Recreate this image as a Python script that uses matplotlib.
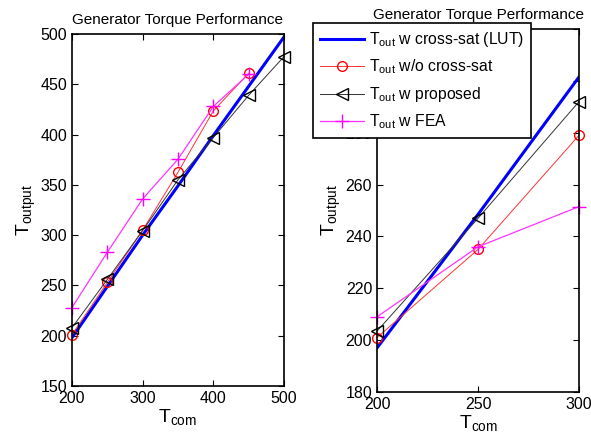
import matplotlib
matplotlib.use("Agg")
import matplotlib.pyplot as plt

plt.rcParams['font.family'] = ['Liberation Sans', 'DejaVu Sans']
plt.rcParams['mathtext.fontset'] = 'custom'
plt.rcParams['mathtext.rm'] = 'Liberation Sans'
plt.rcParams['mathtext.it'] = 'Liberation Sans'

# left panel data
t_com = [200, 250, 300, 350, 400, 450, 500]
lut_left = [198, 249, 300, 349, 399, 448, 497]
wo_left_x = [200, 250, 300, 350, 400, 450]
wo_left = [201, 253, 305, 362.5, 423.5, 461]
prop_left = [208, 256, 304.5, 355, 397, 439, 477.5]
fea_left_x = [200, 250, 300, 350, 400, 450]
fea_left = [228, 283, 336, 375.5, 428, 460]

# right panel data
t_com_r = [200, 250, 300]
lut_right = [197, 248.5, 301.5]
wo_right = [201, 235, 279]
prop_right = [203.5, 247, 292]
fea_right = [209, 236, 251.5]

labels = [r'$\mathrm{T_{out}}$ w cross-sat (LUT)',
          r'$\mathrm{T_{out}}$ w/o cross-sat',
          r'$\mathrm{T_{out}}$ w proposed',
          r'$\mathrm{T_{out}}$ w FEA']

fig = plt.figure(figsize=(5.91, 4.37), dpi=100)
ax1 = fig.add_axes([0.1218, 0.1167, 0.3587, 0.8055])
ax2 = fig.add_axes([0.638, 0.103, 0.3417, 0.8306])

def draw(ax, x_lut, lut, x_wo, wo, x_p, prop, x_f, fea):
    ax.plot(x_lut, lut, color='#0000ff', lw=2.2, label=labels[0])
    ax.plot(x_wo, wo, color='#ff3333', lw=0.7, marker='o', ms=7,
            mfc='none', mec='red', label=labels[1], clip_on=False)
    ax.plot(x_p, prop, color='#333333', lw=0.7, marker='<', ms=8,
            mfc='none', mec='black', label=labels[2], clip_on=False)
    ax.plot(x_f, fea, color='#ff33ff', lw=0.9, marker='+', ms=10,
            mec='magenta', label=labels[3], clip_on=False)
    ax.set_title('Generator Torque Performance', fontsize=11, pad=7)
    ax.set_xlabel(r'$\mathrm{T_{com}}$', fontsize=14, labelpad=1)
    ax.set_ylabel(r'$\mathrm{T_{output}}$', fontsize=14, labelpad=2)
    ax.tick_params(direction='in', top=True, right=True, labelsize=11.5, length=4)
    for s in ax.spines.values():
        s.set_linewidth(1.2)

draw(ax1, t_com, lut_left, wo_left_x, wo_left, t_com, prop_left, fea_left_x, fea_left)
ax1.set_xlim(200, 500)
ax1.set_ylim(150, 500)
ax1.set_xticks([200, 300, 400, 500])
ax1.set_yticks([150, 200, 250, 300, 350, 400, 450, 500])

draw(ax2, t_com_r, lut_right, t_com_r, wo_right, t_com_r, prop_right, t_com_r, fea_right)
ax2.set_xlim(200, 300)
ax2.set_ylim(180, 320)
ax2.set_xticks([200, 250, 300])
ax2.set_yticks([180, 200, 220, 240, 260, 280, 300, 320])

leg = ax2.legend(loc='upper left', bbox_to_anchor=(313 / 591, 1 - 23 / 437),
                 bbox_transform=fig.transFigure, fontsize=11.3, handlelength=2.8,
                 fancybox=False, framealpha=1, edgecolor='black',
                 borderpad=0.45, labelspacing=0.55, handletextpad=0.3,
                 borderaxespad=0)
leg.get_frame().set_linewidth(1.2)
leg.set_zorder(5)

fig.savefig('out.png', dpi=100)
